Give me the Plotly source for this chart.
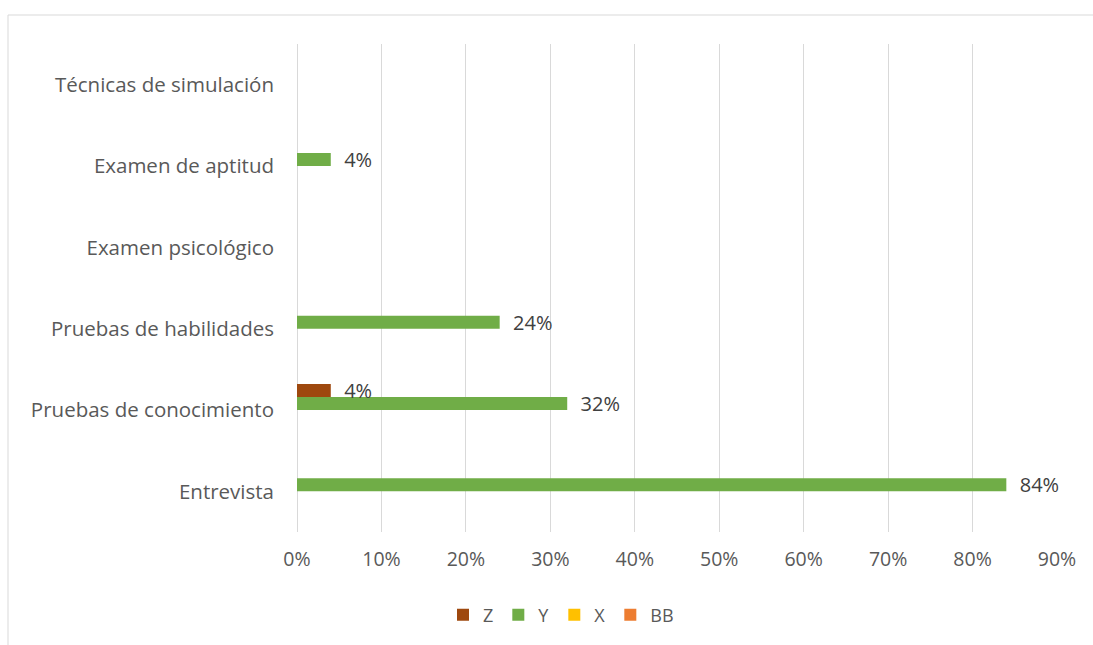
import plotly.graph_objects as go

# Categories listed bottom to top along the vertical axis
categories = [
    "Entrevista",
    "Pruebas de conocimiento",
    "Pruebas de habilidades",
    "Examen psicológico",
    "Examen de aptitud",
    "Técnicas de simulación",
]

# Share of respondents per method, one list per series
z_values = [0.00, 0.04, 0.00, 0.00, 0.00, 0.00]
y_values = [0.84, 0.32, 0.24, 0.00, 0.04, 0.00]
x_values = [0.00, 0.00, 0.00, 0.00, 0.00, 0.00]
bb_values = [0.00, 0.00, 0.00, 0.00, 0.00, 0.00]

x_tick_vals = [0, 0.1, 0.2, 0.3, 0.4, 0.5, 0.6, 0.7, 0.8, 0.9]
x_tick_text = ["0%", "10%", "20%", "30%", "40%", "50%", "60%", "70%", "80%", "90%"]

FONT = "Open Sans"
PAD = "\u00a0\u00a0"


def labels(values):
    return [f"{PAD}{round(v * 100)}%" if v > 0 else "" for v in values]


# Plotly stacks grouped horizontal bars bottom-up in trace order,
# so the series are added in reverse and the legend is flipped back.
series = [
    ("BB", bb_values, "#ED7D31"),
    ("X", x_values, "#FFC000"),
    ("Y", y_values, "#70AD47"),
    ("Z", z_values, "#9E480E"),
]

fig = go.Figure()
for name, vals, color in series:
    fig.add_trace(
        go.Bar(
            name=name,
            y=categories,
            x=vals,
            orientation="h",
            marker=dict(color=color, line=dict(width=0)),
            text=labels(vals),
            textposition="outside",
            constraintext="none",
            cliponaxis=False,
            textfont=dict(family=FONT, size=20, color="#404040"),
            hoverinfo="skip",
        )
    )

fig.update_layout(
    width=1093,
    height=645,
    barmode="group",
    bargap=0.36,
    bargroupgap=0,
    paper_bgcolor="white",
    plot_bgcolor="white",
    margin=dict(l=297, r=36, t=44, b=113),
    font=dict(family=FONT, color="#595959", size=20),
    showlegend=True,
    legend=dict(
        orientation="h",
        traceorder="reversed",
        x=(561 - 297) / 760,
        xanchor="center",
        y=-0.17,
        yanchor="middle",
        font=dict(family=FONT, size=18, color="#595959"),
        itemwidth=30,
        tracegroupgap=0,
    ),
    xaxis=dict(
        range=[0, 0.9],
        tickvals=x_tick_vals,
        ticktext=x_tick_text,
        showgrid=True,
        gridcolor="#d9d9d9",
        gridwidth=1,
        zeroline=True,
        zerolinecolor="#d9d9d9",
        zerolinewidth=1,
        showline=False,
        ticks="",
        tickfont=dict(family=FONT, size=19.5, color="#595959"),
        ticklabelstandoff=13,
    ),
    yaxis=dict(
        categoryorder="array",
        categoryarray=categories,
        showgrid=False,
        zeroline=False,
        showline=False,
        ticks="",
        ticklabelstandoff=22,
        tickfont=dict(family=FONT, size=20.5, color="#595959"),
    ),
    shapes=[
        dict(
            type="rect",
            xref="paper",
            yref="paper",
            x0=(8 - 297) / 760,
            x1=(1110 - 297) / 760,
            y0=-(660 - 531) / 488,
            y1=(531 - 14) / 488,
            line=dict(color="#d9d9d9", width=1),
            fillcolor="rgba(0,0,0,0)",
            layer="below",
        )
    ],
)

fig.write_html("out.html")
